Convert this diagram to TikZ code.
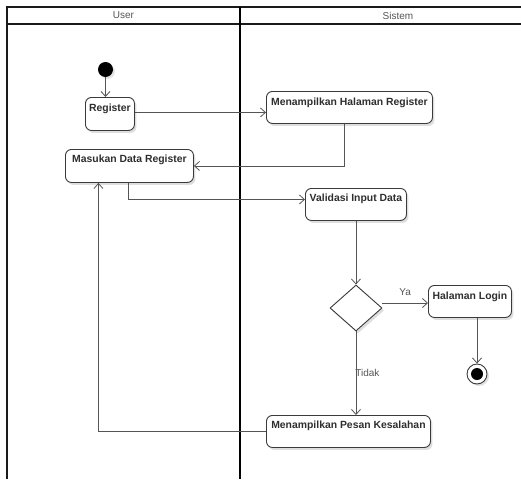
\documentclass[tikz,border=0pt]{standalone}
\usepackage{fontspec}
\setmainfont{Liberation Sans}
\usetikzlibrary{arrows.meta,shapes.geometric,shadows}

\definecolor{edgegray}{HTML}{555555}
\definecolor{boxgray}{HTML}{3A3A3A}
\definecolor{txtgray}{HTML}{2E2E2E}
\definecolor{headgray}{HTML}{555555}
\definecolor{lanegray}{HTML}{1A1A1A}

\begin{document}
\begin{tikzpicture}[x=1pt,y=-1pt,
  act/.style={draw=boxgray, line width=0.9pt, rounded corners=6pt, fill=white,
    anchor=north west, inner sep=0pt,
    drop shadow={shadow xshift=2pt,shadow yshift=-2.5pt,fill=black,opacity=0.13}},
  acttext/.style={anchor=north, inner sep=0pt, text height=7.5pt, text depth=2pt,
    font=\fontsize{10.4}{12}\selectfont\bfseries, text=txtgray},
  headtext/.style={font=\fontsize{10}{12}\selectfont, text=headgray, inner sep=0pt},
  guardtext/.style={font=\fontsize{10}{12}\selectfont, text=headgray, inner sep=0pt},
  flow/.style={draw=edgegray, line width=0.8pt,
    -{Straight Barb[length=5pt,width=9pt,line width=0.8pt]}},
  lane/.style={draw=lanegray, line width=1.6pt},
]
\useasboundingbox (0,0) rectangle (521,479);

% swimlane frame
\draw[lane] (7,479) -- (7,7) -- (521,7);
\draw[lane] (7,24) -- (521,24);
\draw[draw=black, line width=1.8pt] (240,7) -- (240,479);
\node[headtext] (huser) at (123.5,15.5) {User};
\node[headtext] (hsys) at (398,15.5) {Sistem};

% initial node
\node[circle, fill=black, minimum size=15pt, inner sep=0pt,
  drop shadow={shadow xshift=2pt,shadow yshift=-2pt,fill=black,opacity=0.1}] (start) at (105.5,69.5) {};

% actions
\node[act, minimum width=49pt, minimum height=33pt] (reg) at (85,97) {};
\node[acttext] (regt) at ([yshift=-7pt]reg.north) {Register};

\node[act, minimum width=166pt, minimum height=32pt] (mhr) at (266,91) {};
\node[acttext] (mhrt) at ([yshift=-7pt]mhr.north) {Menampilkan Halaman Register};

\node[act, minimum width=128pt, minimum height=33pt] (mdr) at (65,149) {};
\node[acttext] (mdrt) at ([yshift=-6pt]mdr.north) {Masukan Data Register};

\node[act, minimum width=101pt, minimum height=32pt] (val) at (305,188) {};
\node[acttext] (valt) at ([yshift=-6pt]val.north) {Validasi Input Data};

\node[diamond, draw=boxgray, line width=0.9pt, fill=white, inner sep=0pt,
  minimum width=52pt, minimum height=46pt,
  drop shadow={shadow xshift=2pt,shadow yshift=-2.5pt,fill=black,opacity=0.13}] (dec) at (356,308) {};

\node[act, minimum width=83pt, minimum height=32pt] (hl) at (428,285) {};
\node[acttext] (hlt) at ([yshift=-7pt]hl.north) {Halaman Login};

\node[act, minimum width=164pt, minimum height=32pt] (mpk) at (266,415) {};
\node[acttext] (mpkt) at ([yshift=-6pt]mpk.north) {Menampilkan Pesan Kesalahan};

% final node
\node[circle, draw=boxgray, line width=0.9pt, fill=white, minimum size=20pt, inner sep=0pt,
  drop shadow={shadow xshift=2pt,shadow yshift=-2pt,fill=black,opacity=0.12}] (fin) at (477,374) {};
\node[circle, fill=black, minimum size=12pt, inner sep=0pt] (fincore) at (fin) {};

% control flows
\draw[flow] (start.south) -- (start.south |- reg.north);
\draw[flow] ([yshift=1.5pt]reg.east) -- ([yshift=1.5pt]reg.east -| mhr.west);
\draw[flow] ([xshift=-5pt]mhr.south) |- (mdr.east);
\draw[flow] ([xshift=-1pt]mdr.south) |- ([yshift=5pt]val.west);
\draw[flow] (val.south) -- (val.south |- dec.north);
\draw[flow] ([yshift=5pt]dec.east) -- ([yshift=5pt]dec.east -| hl.west)
  node[guardtext, midway, above=7pt] (ya) {Ya};
\draw[flow] (hl.south -| fin.north) -- (fin.north);
\draw[flow] (dec.south) -- (dec.south |- mpk.north)
  node[guardtext, pos=0.5, right=-1pt] (tidak) {Tidak};
\draw[flow] (mpk.west) -| ([xshift=-31pt]mdr.south);
\end{tikzpicture}
\end{document}
